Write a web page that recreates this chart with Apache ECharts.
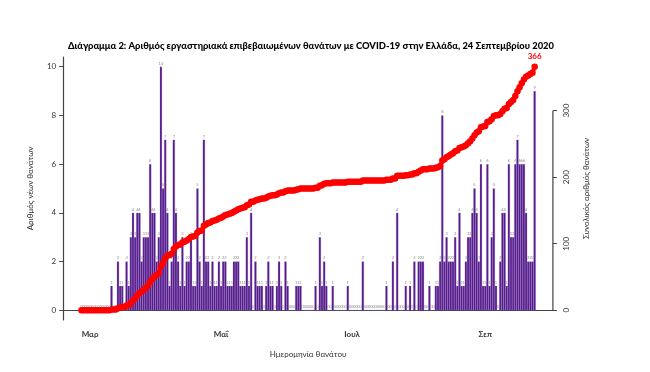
<!DOCTYPE html>
<html><head><meta charset="utf-8">
<script src="https://cdn.jsdelivr.net/npm/echarts@6/dist/echarts.min.js"></script>
<style>html,body{margin:0;padding:0;background:#fff}#c{width:650px;height:372px}</style>
</head><body><div id="c"></div>
<script>
// ---- data (Feb 26 2020 .. Sep 24 2020, one value per day) ----
const startDate = [2020, 1, 26];
const daily = [
  0,0,0,0,
  0,0,0,0,0,0,0,0,0,0, 1,0,0,2,1,1,0,2,1,3, 4,3,4,4,2,3,3,3,6,4, 4,
  2,3,10,5,7,4,1,2,7,4, 2,1,3,1,2,2,3,1,1,5, 2,1,7,2,2,1,2,1,1,2,
  1,2,2,1,1,1,2,2,2,1, 1,1,3,1,4,0,2,1,1,1, 0,1,2,1,1,0,1,2,1,0,2,
  1,0,0,0,1,1,1,0,0,0, 0,0,0,1,0,3,1,2,1,0, 0,1,0,0,0,0,0,0,1,0,
  0,0,0,0,0,2,0,0,0,0, 0,0,0,0,0,0,1,0,0,2, 0,4,0,0,0,1,0,1,0,2,0,
  2,2,2,0,0,1,0,0,1,1, 2,8,2,3,2,2,2,3,1,4, 1,1,2,3,3,4,5,4,2,6,1,
  1,6,1,3,5,1,0,2,4,4, 1,6,3,3,6,7,6,6,6,4, 2,2,2,9
];
const cumulative = [
  0,0,0,0,
  0,0,0,0,0,0,0,0,0,0, 1,1,1,3,4,5,5,7,8,11, 15,18,22,26,28,31,34,37,43,47, 51,
  53,56,66,71,78,82,83,85,92,96, 98,99,102,103,105,107,110,111,112,117, 119,120,127,129,131,132,134,135,136,138,
  139,141,143,144,145,146,148,150,152,153, 154,155,158,159,163,163,165,166,167,168, 168,169,171,172,173,173,174,176,177,177,179,
  180,180,180,180,181,182,183,183,183,183, 183,183,183,184,184,187,188,190,191,191, 191,192,192,192,192,192,192,192,193,193,
  193,193,193,193,193,195,195,195,195,195, 195,195,195,195,195,195,196,196,196,198, 198,202,202,202,202,203,203,204,204,206,206,
  208,210,212,212,212,213,213,213,214,215, 217,225,227,230,232,234,236,239,240,244, 245,246,248,251,254,258,263,267,269,275,276,
  277,283,284,287,292,293,293,295,299,303, 304,310,313,316,322,329,335,341,347,351, 353,355,357,366
];
const monthLabels = {'03':'Μαρ','05':'Μαΐ','07':'Ιουλ','09':'Σεπ'};
const leftTicks = [0,2,4,6,8,10];
const rightTicks = [0,100,200,300];
const titleText = 'Διάγραμμα 2: Αριθμός εργαστηριακά επιβεβαιωμένων θανάτων με COVID-19 στην Ελλάδα, 24 Σεπτεμβρίου 2020';
const xName = 'Ημερομηνία θανάτου';
const yLeftName = 'Αριθμός νέων θανάτων';
const yRightName = 'Συνολικός αριθμός θανάτων';

// ---- build ----
const padDays = 8; // empty axis room either side (R's 4% range extension)
const base = Date.UTC(startDate[0], startDate[1], startDate[2]);
const categories = [];
for (let k = -padDays; k < daily.length + padDays; k++) {
  categories.push(new Date(base + k * 86400000).toISOString().slice(0, 10));
}
const pad = new Array(padDays).fill(null);
const barData = pad.concat(daily, pad);
const lineData = pad.concat(cumulative.map((v, i) => i === cumulative.length - 1
  ? {value: v, label: {show: true, formatter: String(v), position: 'top', distance: 3,
      color: '#ff0000', fontWeight: 'bold', fontSize: 8, fontFamily: 'Lato'}}
  : v), pad);

const isMonthTick = (idx, val) => val.slice(8) === '01' && monthLabels[val.slice(5, 7)] !== undefined;
const FONT = 'Lato';
const axisCol = '#444';
const maxDaily = 10, maxCum = 366;
const GRID = {left: 63.2, top: 57, width: 489.7, height: 263};

const chart = echarts.init(document.getElementById('c'), null, {renderer: 'canvas'});
chart.setOption({
  animation: false,
  backgroundColor: '#fff',
  title: {text: titleText, left: 306, top: 36, textAlign: 'center',
    textStyle: {fontFamily: FONT, fontWeight: 900, fontSize: 9.4, color: '#000'}},
  grid: GRID,
  xAxis: {
    type: 'category', data: categories, boundaryGap: true,
    axisLine: {lineStyle: {color: axisCol, width: 1.2}},
    axisTick: {alignWithLabel: true, interval: isMonthTick, length: 5, lineStyle: {color: axisCol}},
    axisLabel: {interval: isMonthTick, formatter: v => monthLabels[v.slice(5, 7)], margin: 10,
      fontFamily: FONT, fontSize: 8, fontWeight: 'bold', color: '#333'},
    name: xName, nameLocation: 'middle', nameGap: 30,
    nameTextStyle: {fontFamily: FONT, fontSize: 8, color: '#333'}
  },
  yAxis: [{
    type: 'value', min: -0.04 * maxDaily, max: maxDaily * 1.04,
    splitLine: {show: false},
    axisLine: {show: true, lineStyle: {color: axisCol, width: 1.2}},
    axisTick: {show: true, customValues: leftTicks, length: 4, lineStyle: {color: axisCol}},
    axisLabel: {customValues: leftTicks, margin: 7, fontFamily: FONT, fontSize: 8, color: '#333'},
    name: yLeftName, nameLocation: 'middle', nameGap: 29, nameRotate: 90,
    nameTextStyle: {fontFamily: FONT, fontSize: 8, color: '#333'}
  }, {
    type: 'value', position: 'right', min: -0.04 * maxCum, max: maxCum * 1.04,
    splitLine: {show: false},
    axisLine: {show: false},
    axisTick: {show: true, customValues: rightTicks, length: 4, lineStyle: {color: axisCol}},
    axisLabel: {customValues: rightTicks, rotate: 90, margin: 10, fontFamily: FONT, fontSize: 8, color: '#333'},
    name: yRightName, nameLocation: 'middle', nameGap: 30, nameRotate: 90,
    nameTextStyle: {fontFamily: FONT, fontSize: 8, color: '#333'}
  }],
  series: [{
    type: 'bar', data: barData, yAxisIndex: 0, barCategoryGap: '0%',
    itemStyle: {color: '#551A8B', borderColor: '#8f6fc0', borderWidth: 0.25},
    label: {show: true, position: 'top', distance: 1.5, fontSize: 4, color: '#8a8a8a', fontFamily: FONT},
    z: 2
  }, {
    type: 'line', data: lineData, yAxisIndex: 1, symbol: 'circle', symbolSize: 6.5,
    showAllSymbol: true,
    lineStyle: {color: '#ff0000', width: 4}, itemStyle: {color: '#ff0000'},
    z: 5
  }]
});
// right axis line drawn only over the tick range, as in the original
const yTop = chart.convertToPixel({yAxisIndex: 1}, rightTicks[rightTicks.length - 1]);
const yBot = chart.convertToPixel({yAxisIndex: 1}, rightTicks[0]);
const xR = GRID.left + GRID.width;
chart.setOption({graphic: [{type: 'line', shape: {x1: xR, y1: yTop, x2: xR, y2: yBot},
  style: {stroke: axisCol, lineWidth: 1.2}}]});
</script></body></html>
